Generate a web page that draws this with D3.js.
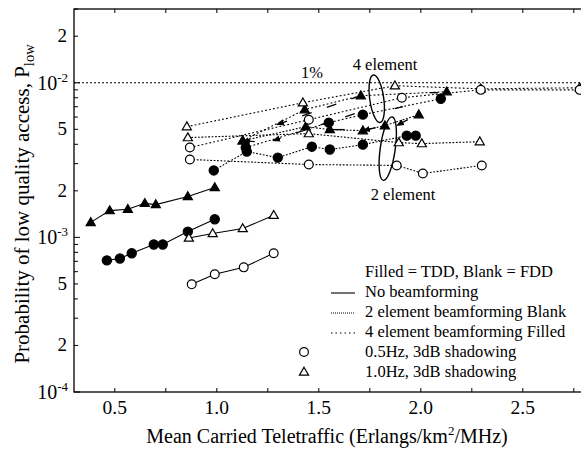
<!DOCTYPE html>
<html lang="en">
<head>
<meta charset="UTF-8">
<title>Probability of low quality access</title>
<script src="https://cdnjs.cloudflare.com/ajax/libs/d3/7.8.5/d3.min.js"></script>
<style>
  body { margin: 0; background: #fff; }
  svg { font-family: "Liberation Serif", "DejaVu Serif", serif; }
</style>
</head>
<body>
<div id="chart"></div>
<script>
// ---- data ----
// no beamforming, solid lines
const noBfTdd10x = [0.382, 0.475, 0.564, 0.647, 0.701, 0.858, 0.990];
const noBfTdd10y = [1.25e-3, 1.49e-3, 1.52e-3, 1.66e-3, 1.63e-3, 1.84e-3, 2.10e-3];
const noBfTdd05x = [0.461, 0.525, 0.583, 0.691, 0.735, 0.858, 0.990];
const noBfTdd05y = [7.1e-4, 7.3e-4, 7.9e-4, 9.0e-4, 9.0e-4, 1.09e-3, 1.31e-3];
const noBfFdd10x = [0.863, 0.980, 1.127, 1.279];
const noBfFdd10y = [9.9e-4, 1.06e-3, 1.14e-3, 1.39e-3];
const noBfFdd05x = [0.877, 0.990, 1.132, 1.279];
const noBfFdd05y = [4.97e-4, 5.77e-4, 6.4e-4, 7.9e-4];

// 4 element beamforming
const bf4Fdd10x = [0.853, 1.422, 1.873, 2.294, 2.779];
const bf4Fdd10y = [5.20e-3, 7.43e-3, 9.57e-3, 9.14e-3, 9.28e-3];
const bf4Fdd05x = [0.868, 1.451, 1.907, 2.294, 2.779];
const bf4Fdd05y = [3.81e-3, 5.77e-3, 8.0e-3, 9.0e-3, 9.0e-3];
const bf4Tdd10x = [1.127, 1.431, 1.706, 2.127];
const bf4Tdd10y = [4.22e-3, 6.70e-3, 8.25e-3, 8.75e-3];
const bf4Tdd05x = [1.142, 1.549, 1.716, 2.098];
const bf4Tdd05y = [3.81e-3, 5.52e-3, 6.22e-3, 7.88e-3];

// 2 element beamforming
const bf2Fdd10x = [0.858, 1.451, 1.892, 2.005, 2.289];
const bf2Fdd10y = [4.42e-3, 4.69e-3, 4.10e-3, 4.04e-3, 4.16e-3];
const bf2Fdd05x = [0.868, 1.451, 1.882, 2.010, 2.299];
const bf2Fdd05y = [3.19e-3, 2.96e-3, 2.92e-3, 2.59e-3, 2.92e-3];
const bf2Tdd10x = [1.127, 1.436, 1.554, 1.716, 1.824, 1.990];
const bf2Tdd10y = [4.22e-3, 5.20e-3, 4.98e-3, 4.90e-3, 5.28e-3, 6.22e-3];
const bf2Tdd05x = [0.985, 1.147, 1.299, 1.466, 1.554, 1.716, 1.931, 1.975];
const bf2Tdd05y = [2.71e-3, 3.59e-3, 3.28e-3, 3.86e-3, 3.70e-3, 3.98e-3, 4.55e-3, 4.55e-3];

const threshold = 1e-2;

// dashed arrows between groups [x1, y1, x2, y2, head]
const arrows = [
  [1.706, 8.25e-3, 1.294, 5.36e-3, 1],
  [1.676, 6.31e-3, 1.275, 4.22e-3, 1],
  [1.936, 5.77e-3, 1.882, 5.28e-3, 1],
  [1.779, 5.13e-3, 1.716, 4.90e-3, 1],
  [1.186, 4.16e-3, 1.127, 4.22e-3, 1],
  [2.083, 8.63e-3, 2.044, 8.63e-3, 0],
  [1.912, 7.0e-3, 1.873, 6.8e-3, 0],
  [1.627, 4.98e-3, 1.569, 4.98e-3, 0]
];
// group ellipses [cx, cy]
const ellipses = [[1.784, 7.88e-3], [1.838, 3.75e-3]];

const xTicks = [0.5, 0.75, 1, 1.25, 1.5, 1.75, 2, 2.25, 2.5, 2.75];
const xTickLabels = ["0.5", "1.0", "1.5", "2.0", "2.5"];
const xLabelValues = [0.5, 1, 1.5, 2, 2.5];
const yPowers = [1e-4, 1e-3, 1e-2];
const yPowerLabels = ["-4", "-3", "-2"];
const yDigitValues = [2e-4, 5e-4, 2e-3, 5e-3, 2e-2];
const yDigitLabels = ["2", "5", "2", "5", "2"];

const legendLines = ["No beamforming", "2 element beamforming Blank", "4 element beamforming Filled"];
const legendMarkers = ["0.5Hz, 3dB shadowing", "1.0Hz, 3dB shadowing"];

// ---- drawing ----
const width = 581, height = 450;
const mLeft = 74, mRight = 584, mTop = 9, mBottom = 392;

const svg = d3.select("#chart").append("svg")
  .attr("width", width).attr("height", height);

const x = d3.scaleLinear().domain([0.3, 2.8]).range([mLeft, mRight]);
const y = d3.scaleLog().domain([1e-4, 3e-2]).range([mBottom, mTop]);

// frame
svg.append("rect")
  .attr("x", mLeft).attr("y", mTop)
  .attr("width", mRight - mLeft).attr("height", mBottom - mTop)
  .attr("fill", "none").attr("stroke", "#000").attr("stroke-width", 1.3);

// x ticks (inward, bottom and top)
const gTicks = svg.append("g").attr("stroke", "#000").attr("stroke-width", 1);
xTicks.forEach(v => {
  gTicks.append("line").attr("x1", x(v)).attr("x2", x(v)).attr("y1", mBottom).attr("y2", mBottom - 4);
  gTicks.append("line").attr("x1", x(v)).attr("x2", x(v)).attr("y1", mTop).attr("y2", mTop + 4);
});
// y ticks, 2..9 per decade
for (let p = -4; p <= -2; p++) {
  for (let k = 1; k <= 9; k++) {
    const v = k * Math.pow(10, p);
    if (v > 3e-2) break;
    const len = k === 1 ? 6 : 4;
    gTicks.append("line").attr("x1", mLeft).attr("x2", mLeft + len)
      .attr("y1", y(v)).attr("y2", y(v));
  }
}

// tick labels
xLabelValues.forEach((v, i) => {
  svg.append("text").attr("x", x(v)).attr("y", 414)
    .attr("text-anchor", "middle").attr("font-size", 19.5)
    .text(xTickLabels[i]);
});
yDigitValues.forEach((v, i) => {
  svg.append("text").attr("x", 67).attr("y", y(v) + 6)
    .attr("text-anchor", "end").attr("font-size", 19)
    .text(yDigitLabels[i]);
});
yPowers.forEach((v, i) => {
  const t = svg.append("text").attr("x", 68).attr("y", y(v) + 7)
    .attr("text-anchor", "end").attr("font-size", 20);
  t.append("tspan").text("10");
  t.append("tspan").attr("dy", -8).attr("font-size", 13).text(yPowerLabels[i]);
});

// axis titles
const xt = svg.append("text").attr("x", 327).attr("y", 443)
  .attr("text-anchor", "middle").attr("font-size", 20);
xt.append("tspan").text("Mean Carried Teletraffic (Erlangs/km");
xt.append("tspan").attr("dy", -8).attr("font-size", 13).text("2");
xt.append("tspan").attr("dy", 8).text("/MHz)");

const yt = svg.append("text").attr("transform", "translate(29,204) rotate(-90)")
  .attr("text-anchor", "middle").attr("font-size", 21);
yt.append("tspan").text("Probability of low quality access, P");
yt.append("tspan").attr("dy", 5).attr("font-size", 14.5).text("low");

// 1% threshold line
svg.append("line")
  .attr("x1", mLeft).attr("x2", mRight).attr("y1", y(threshold)).attr("y2", y(threshold))
  .attr("stroke", "#000").attr("stroke-width", 1.1).attr("stroke-dasharray", "2,2");

// series
const series = [
  { xs: noBfTdd10x, ys: noBfTdd10y, dash: null, sym: "tri", fill: true },
  { xs: noBfTdd05x, ys: noBfTdd05y, dash: null, sym: "circ", fill: true },
  { xs: noBfFdd10x, ys: noBfFdd10y, dash: null, sym: "tri", fill: false },
  { xs: noBfFdd05x, ys: noBfFdd05y, dash: null, sym: "circ", fill: false },
  { xs: bf2Tdd05x, ys: bf2Tdd05y, dash: "1.8,1.6", sym: "circ", fill: true },
  { xs: bf2Tdd10x, ys: bf2Tdd10y, dash: "1.8,1.6", sym: "tri", fill: true },
  { xs: bf4Tdd05x, ys: bf4Tdd05y, dash: "1.8,2.2", sym: "circ", fill: true },
  { xs: bf4Tdd10x, ys: bf4Tdd10y, dash: "1.8,2.2", sym: "tri", fill: true },
  { xs: bf2Fdd10x, ys: bf2Fdd10y, dash: "1.8,1.6", sym: "tri", fill: false },
  { xs: bf2Fdd05x, ys: bf2Fdd05y, dash: "1.8,1.6", sym: "circ", fill: false },
  { xs: bf4Fdd10x, ys: bf4Fdd10y, dash: "1.8,2.2", sym: "tri", fill: false },
  { xs: bf4Fdd05x, ys: bf4Fdd05y, dash: "1.8,2.2", sym: "circ", fill: false }
];

const line = d3.line().x(d => x(d[0])).y(d => y(d[1]));
const gLines = svg.append("g");
series.forEach(s => {
  const pts = s.xs.map((v, i) => [v, s.ys[i]]);
  const p = gLines.append("path").datum(pts).attr("d", line)
    .attr("fill", "none").attr("stroke", "#000").attr("stroke-width", 1.1);
  if (s.dash) p.attr("stroke-dasharray", s.dash);
});

// arrowheads
svg.append("defs").append("marker")
  .attr("id", "head").attr("viewBox", "0 -5 10 10")
  .attr("refX", 9).attr("refY", 0)
  .attr("markerWidth", 8).attr("markerHeight", 8)
  .attr("markerUnits", "userSpaceOnUse")
  .attr("orient", "auto")
  .append("path").attr("d", "M0,-4L10,0L0,4Z").attr("fill", "#000");

arrows.forEach(a => {
  const l = svg.append("line")
    .attr("x1", x(a[0])).attr("y1", y(a[1])).attr("x2", x(a[2])).attr("y2", y(a[3]))
    .attr("stroke", "#000").attr("stroke-width", 1.3);
  if (a[4]) l.attr("stroke-dasharray", "10,16").attr("marker-end", "url(#head)");
});

ellipses.forEach((c, i) => {
  svg.append("ellipse")
    .attr("transform", `translate(${x(c[0])},${y(c[1])}) rotate(${i === 0 ? -8 : 8})`)
    .attr("rx", i === 0 ? 7 : 7.5).attr("ry", i === 0 ? 24 : 32)
    .attr("fill", "none").attr("stroke", "#000").attr("stroke-width", 1.4);
});

const triPath = d3.symbol().type(d3.symbolTriangle).size(36);
function drawMarker(g, sym, fill, cx, cy) {
  if (sym === "circ") {
    g.append("circle").attr("cx", cx).attr("cy", cy).attr("r", fill ? 4.6 : 4.4)
      .attr("fill", fill ? "#000" : "#fff").attr("stroke", "#000").attr("stroke-width", 1.2);
  } else {
    g.append("path").attr("d", triPath()).attr("transform", `translate(${cx},${cy + 0.5})`)
      .attr("fill", fill ? "#000" : "#fff").attr("stroke", "#000").attr("stroke-width", 1.2);
  }
}
const gMarks = svg.append("g");
series.forEach(s => {
  s.xs.forEach((v, i) => drawMarker(gMarks, s.sym, s.fill, x(v), y(s.ys[i])));
});

// annotations
svg.append("text").attr("x", 312).attr("y", 78).attr("text-anchor", "middle")
  .attr("font-size", 16.5).text("1%");
svg.append("text").attr("x", 385).attr("y", 70).attr("text-anchor", "middle")
  .attr("font-size", 16.5).text("4 element");
svg.append("text").attr("x", 403).attr("y", 200).attr("text-anchor", "middle")
  .attr("font-size", 16.5).text("2 element");

// legend
const lg = svg.append("g").attr("font-size", 16.5);
lg.append("text").attr("x", 365).attr("y", 277).text("Filled = TDD, Blank = FDD");
const lineDash = [null, "1,1", "1.5,3"];
legendLines.forEach((t, i) => {
  const yy = 297 + i * 20;
  const l = lg.append("line").attr("x1", 331).attr("x2", 355)
    .attr("y1", yy - 4).attr("y2", yy - 4)
    .attr("stroke", "#000").attr("stroke-width", 1.1);
  if (lineDash[i]) l.attr("stroke-dasharray", lineDash[i]);
  lg.append("text").attr("x", 365).attr("y", yy).text(t);
});
legendMarkers.forEach((t, i) => {
  const yy = 357 + i * 20;
  drawMarker(lg, i === 0 ? "circ" : "tri", false, 304, yy - 5);
  lg.append("text").attr("x", 365).attr("y", yy).text(t);
});
</script>
</body>
</html>
